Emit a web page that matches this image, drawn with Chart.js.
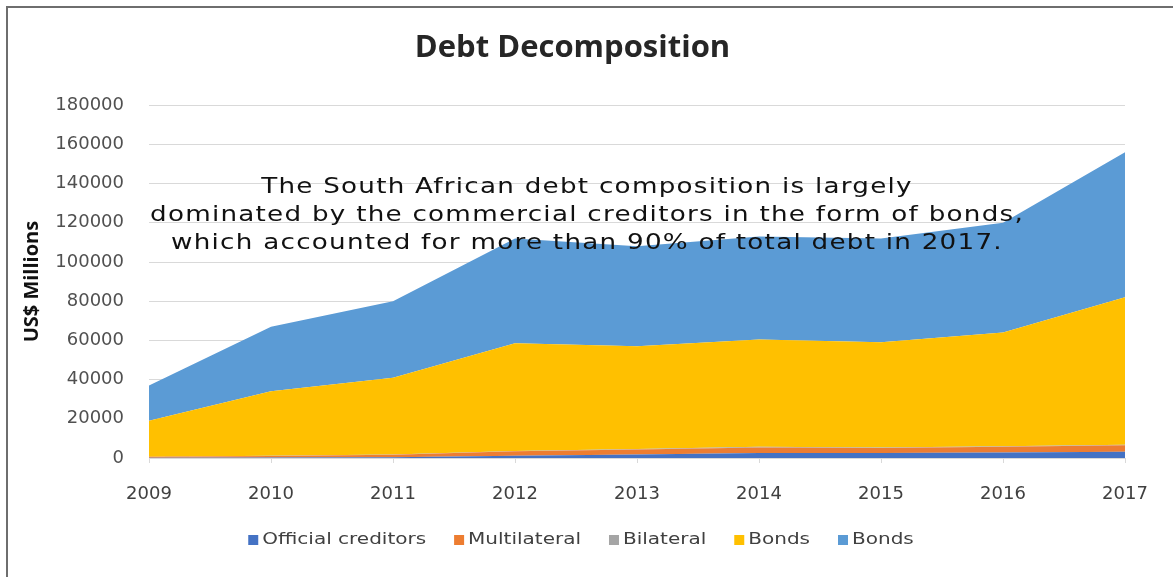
<!DOCTYPE html>
<html>
<head>
<meta charset="utf-8">
<title>Debt Decomposition</title>
<script src="https://cdn.jsdelivr.net/npm/chart.js@4/dist/chart.umd.min.js"></script>
<style>
  html, body { margin: 0; padding: 0; background: #ffffff; }
  #wrap { position: relative; width: 1173px; height: 577px; }
</style>
</head>
<body>
<div id="wrap"><canvas id="chart" width="1173" height="577"></canvas></div>
<script>
// Years on the horizontal axis
const years = ['2009', '2010', '2011', '2012', '2013', '2014', '2015', '2016', '2017'];

// External debt by creditor type, US$ millions (stacked)
const officialCreditors = [100, 200, 400, 1200, 1800, 2600, 2600, 2800, 3200];
const multilateral      = [500, 800, 1200, 2200, 2500, 2800, 2500, 2900, 3300];
const bilateral         = [100, 100, 150, 200, 250, 300, 300, 300, 300];
const bondsDomestic     = [18300, 32900, 39250, 54900, 52450, 54800, 53600, 58000, 75200];
const bondsForeign      = [18000, 33000, 39000, 53500, 51000, 52500, 53000, 56000, 74000];

// Value axis range
const yMin = 0;
const yMax = 180000;
const yStep = 20000;

// Commentary written across the plot
const noteLines = [
  'The South African debt composition is largely',
  'dominated by the commercial creditors in the form of bonds,',
  'which accounted for more than 90% of total debt in 2017.'
];

const TICK_FONT = "'DejaVu Sans', sans-serif";

// Frame lines on the top and left edges of the figure
const framePlugin = {
  id: 'frame',
  beforeDraw(chart) {
    const ctx = chart.ctx;
    ctx.save();
    ctx.fillStyle = '#ffffff';
    ctx.fillRect(0, 0, chart.width, chart.height);
    ctx.strokeStyle = '#6e6e6e';
    ctx.lineWidth = 2;
    ctx.beginPath();
    ctx.moveTo(7, chart.height);
    ctx.lineTo(7, 7);
    ctx.lineTo(chart.width, 7);
    ctx.stroke();
    ctx.restore();
  }
};

// Centered commentary text over the upper part of the plot (wide lettering)
const notePlugin = {
  id: 'note',
  afterDatasetsDraw(chart) {
    const ctx = chart.ctx;
    const area = chart.chartArea;
    const cx = area.left + 438;
    const y0 = area.top + 82;
    ctx.save();
    ctx.font = "21px 'DejaVu Sans', sans-serif";
    ctx.letterSpacing = '1px';
    ctx.fillStyle = '#111111';
    ctx.textAlign = 'center';
    ctx.textBaseline = 'middle';
    const stretch = 874 / ctx.measureText(noteLines[1]).width;
    noteLines.forEach((line, i) => {
      ctx.save();
      ctx.translate(cx, y0 + i * 28);
      ctx.scale(stretch, 1);
      ctx.fillText(line, 0, 0);
      ctx.restore();
    });
    ctx.restore();
  }
};

// Legend row under the axis: square swatch followed by the series name
const legendPlugin = {
  id: 'rowLegend',
  afterDraw(chart) {
    const ctx = chart.ctx;
    const sets = chart.data.datasets;
    const stretch = 1.25;
    const box = 10, gapText = 4, gapItem = 28;
    ctx.save();
    ctx.font = "16px 'DejaVu Sans', sans-serif";
    ctx.textBaseline = 'middle';
    ctx.textAlign = 'left';
    const widths = sets.map(d => ctx.measureText(d.label).width * stretch);
    const total = widths.reduce((a, w) => a + box + gapText + w, 0) + gapItem * (sets.length - 1);
    let x = 581 - total / 2;
    const y = 540;
    sets.forEach((d, i) => {
      ctx.fillStyle = d.backgroundColor;
      ctx.fillRect(x, y - box / 2, box, box);
      x += box + gapText;
      ctx.fillStyle = '#404040';
      ctx.save();
      ctx.translate(x, y);
      ctx.scale(stretch, 1);
      ctx.fillText(d.label, 0, 0);
      ctx.restore();
      x += widths[i] + gapItem;
    });
    ctx.restore();
  }
};

const series = [
  { label: 'Official creditors', data: officialCreditors, color: '#4472C4' },
  { label: 'Multilateral',       data: multilateral,      color: '#ED7D31' },
  { label: 'Bilateral',          data: bilateral,         color: '#A5A5A5' },
  { label: 'Bonds',              data: bondsDomestic,     color: '#FFC000' },
  { label: 'Bonds',              data: bondsForeign,      color: '#5B9BD5' }
];

new Chart(document.getElementById('chart'), {
  type: 'line',
  data: {
    labels: years,
    datasets: series.map((s, i) => ({
      label: s.label,
      data: s.data,
      backgroundColor: s.color,
      borderColor: s.color,
      borderWidth: 0,
      pointRadius: 0,
      pointHoverRadius: 0,
      tension: 0,
      fill: i === 0 ? 'origin' : '-1'
    }))
  },
  options: {
    responsive: false,
    animation: false,
    devicePixelRatio: 1,
    layout: { padding: { left: 20, right: 48, top: 12, bottom: 47 } },
    plugins: {
      title: {
        display: true,
        text: 'Debt Decomposition',
        color: '#262626',
        font: { family: "'Open Sans', sans-serif", size: 31, weight: 'bold' },
        padding: { top: 18, bottom: 38 }
      },
      legend: { display: false },
      tooltip: { enabled: false }
    },
    scales: {
      x: {
        grid: {
          drawOnChartArea: false,
          drawTicks: true,
          tickLength: 5,
          color: '#d9d9d9'
        },
        border: { display: true, color: '#d9d9d9' },
        ticks: {
          color: '#404040',
          font: { family: TICK_FONT, size: 18 },
          padding: 21,
          maxRotation: 0
        },
        afterFit(scale) { scale.height = 72; }
      },
      y: {
        stacked: true,
        min: yMin,
        max: yMax,
        grid: { color: '#d9d9d9', drawTicks: false },
        border: { display: false },
        ticks: {
          stepSize: yStep,
          color: '#505050',
          font: { family: TICK_FONT, size: 18 },
          padding: 25,
          callback: v => String(v)
        },
        title: {
          display: true,
          text: 'US$ Millions',
          color: '#111111',
          font: { family: "'Open Sans', sans-serif", size: 20, weight: 'bold' },
          padding: 0
        },
        afterFit(scale) { scale.width = 129; }
      }
    }
  },
  plugins: [framePlugin, notePlugin, legendPlugin]
});
</script>
</body>
</html>
